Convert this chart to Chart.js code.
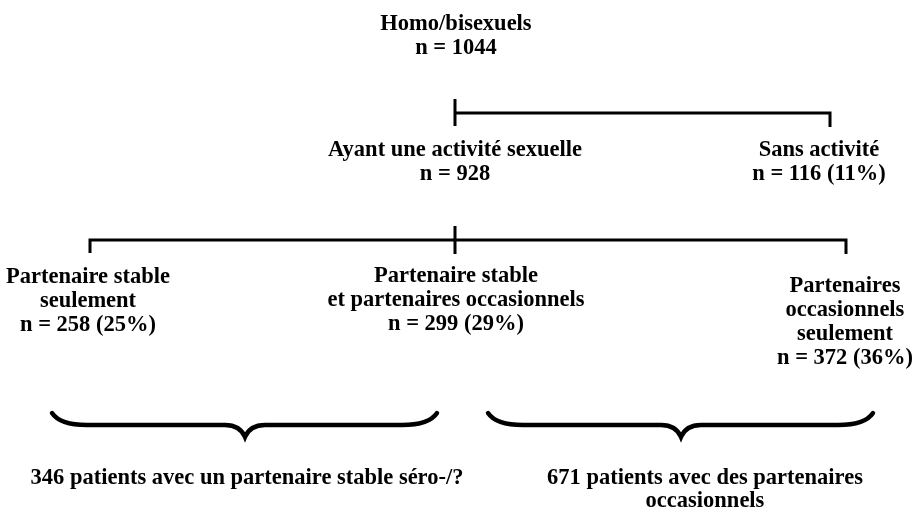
<!DOCTYPE html>
<html lang="fr">
<head>
  <meta charset="UTF-8">
  <title>Homo/bisexuels - activité sexuelle</title>
  <script src="https://cdn.jsdelivr.net/npm/chart.js@4.4.0/dist/chart.umd.min.js"></script>
  <style>
    body { margin: 0; background: #ffffff; }
    #tree { display: block; }
  </style>
</head>
<body>
  <canvas id="tree" width="915" height="511"></canvas>

  <script>
    // groups of the flow diagram
    const groupLabels = [
      ['Homo/bisexuels'],
      ['Ayant une activité sexuelle'],
      ['Sans activité'],
      ['Partenaire stable', 'seulement'],
      ['Partenaire stable', 'et partenaires occasionnels'],
      ['Partenaires', 'occasionnels', 'seulement']
    ];
    const groupCounts = [1044, 928, 116, 258, 299, 372];
    const groupPercents = [null, null, 11, 25, 29, 36];

    const summaryLabels = [
      ['346 patients avec un partenaire stable séro-/?'],
      ['671 patients avec des partenaires', 'occasionnels']
    ];

    // layout (in canvas units, 915 x 511)
    const nodePos = [
      { x: 456, y: 24 },
      { x: 455, y: 150 },
      { x: 819, y: 150 },
      { x: 88, y: 277 },
      { x: 456, y: 276 },
      { x: 845, y: 286 }
    ];
    const connectors = [
      [{ x: 455, y: 99 }, { x: 455, y: 126 }],
      [{ x: 455, y: 113 }, { x: 830, y: 113 }, { x: 830, y: 127 }],
      [{ x: 455, y: 226 }, { x: 455, y: 254 }],
      [{ x: 90, y: 253 }, { x: 90, y: 240 }, { x: 846, y: 240 }, { x: 846, y: 254 }]
    ];
    const braces = [
      { from: 52, to: 437, tip: 245, top: 413, mid: 425, bottom: 437 },
      { from: 488, to: 873, tip: 681, top: 413, mid: 425, bottom: 437 }
    ];
    const summaryPos = [
      { x: 247, y: 478 },
      { x: 705, y: 478 }
    ];

    const FONT = 'bold 22.5px "Liberation Serif", "Times New Roman", serif';
    const LINE_H = 24;

    function nodeLines(i) {
      const lines = groupLabels[i].slice();
      let n = 'n = ' + groupCounts[i];
      if (groupPercents[i] !== null) n += ' (' + groupPercents[i] + '%)';
      lines.push(n);
      return lines;
    }

    const treePlugin = {
      id: 'treePlugin',
      afterDatasetsDraw(chart) {
        const ctx = chart.ctx;
        const xs = chart.scales.x;
        const ys = chart.scales.y;
        const px = v => xs.getPixelForValue(v);
        const py = v => ys.getPixelForValue(v);

        ctx.save();
        ctx.fillStyle = '#000';
        ctx.font = FONT;
        ctx.textAlign = 'center';
        ctx.textBaseline = 'middle';

        nodePos.forEach((p, i) => {
          nodeLines(i).forEach((line, k) => {
            ctx.fillText(line, px(p.x), py(p.y + k * LINE_H));
          });
        });

        summaryPos.forEach((p, i) => {
          summaryLabels[i].forEach((line, k) => {
            ctx.fillText(line, px(p.x), py(p.y + k * 23));
          });
        });

        // curly braces
        ctx.strokeStyle = '#000';
        ctx.lineWidth = 4.5;
        ctx.lineCap = 'round';
        braces.forEach(b => {
          ctx.beginPath();
          ctx.moveTo(px(b.from), py(b.top));
          ctx.quadraticCurveTo(px(b.from + 8), py(b.mid), px(b.from + 35), py(b.mid));
          ctx.lineTo(px(b.tip - 20), py(b.mid));
          ctx.quadraticCurveTo(px(b.tip - 5), py(b.mid), px(b.tip), py(b.bottom));
          ctx.quadraticCurveTo(px(b.tip + 5), py(b.mid), px(b.tip + 20), py(b.mid));
          ctx.lineTo(px(b.to - 35), py(b.mid));
          ctx.quadraticCurveTo(px(b.to - 8), py(b.mid), px(b.to), py(b.top));
          ctx.stroke();
        });
        ctx.restore();
      }
    };

    const ctx = document.getElementById('tree').getContext('2d');
    new Chart(ctx, {
      type: 'scatter',
      data: {
        datasets: connectors.map(pts => ({
          data: pts,
          showLine: true,
          borderColor: '#000',
          borderWidth: 3,
          borderJoinStyle: 'miter',
          borderCapStyle: 'butt',
          pointRadius: 0,
          fill: false
        }))
      },
      options: {
        responsive: false,
        animation: false,
        layout: { padding: 0 },
        plugins: {
          legend: { display: false },
          tooltip: { enabled: false }
        },
        scales: {
          x: { type: 'linear', min: 0, max: 915, display: false },
          y: { type: 'linear', min: 0, max: 511, reverse: true, display: false }
        }
      },
      plugins: [treePlugin]
    });
  </script>
</body>
</html>
